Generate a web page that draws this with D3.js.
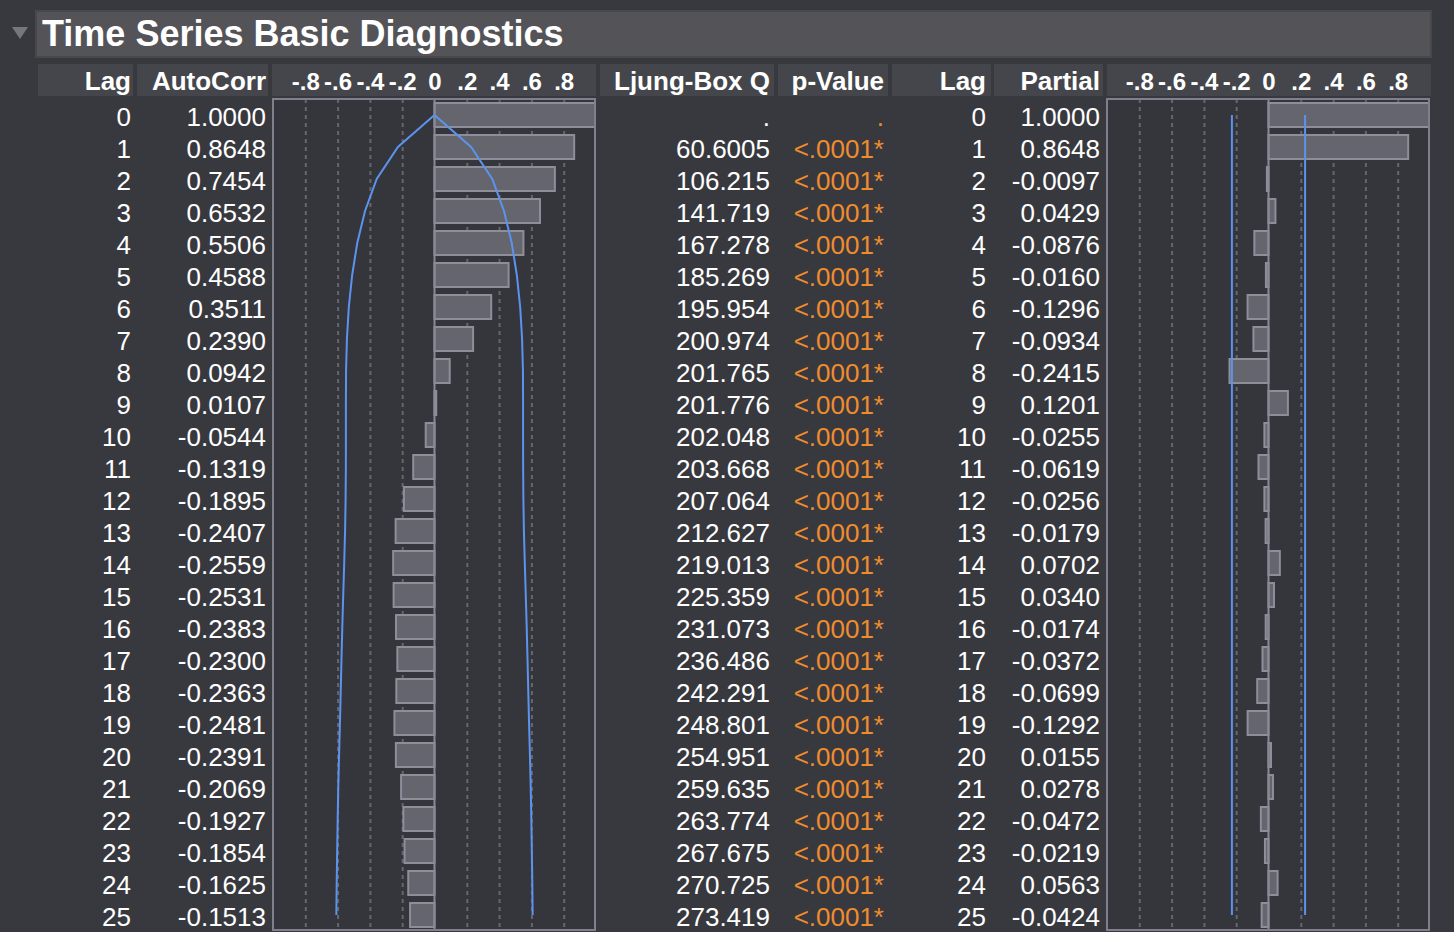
<!DOCTYPE html>
<html>
<head>
<meta charset="utf-8">
<script src="https://cdn.jsdelivr.net/npm/d3@7"></script>
<style>
  html, body { margin: 0; padding: 0; background: #38393e; }
  svg { display: block; }
  text { font-family: "Liberation Sans", Arial, Helvetica, sans-serif; }
</style>
</head>
<body>
<svg id="chart" width="1454" height="932"></svg>
<script>
// ---------------- data ----------------
const lags = [0,1,2,3,4,5,6,7,8,9,10,11,12,13,14,15,16,17,18,19,20,21,22,23,24,25];
const autoCorr = [1.0000,0.8648,0.7454,0.6532,0.5506,0.4588,0.3511,0.2390,0.0942,0.0107,
  -0.0544,-0.1319,-0.1895,-0.2407,-0.2559,-0.2531,-0.2383,-0.2300,-0.2363,-0.2481,
  -0.2391,-0.2069,-0.1927,-0.1854,-0.1625,-0.1513];
const ljungBoxQ = [null,60.6005,106.215,141.719,167.278,185.269,195.954,200.974,201.765,201.776,
  202.048,203.668,207.064,212.627,219.013,225.359,231.073,236.486,242.291,248.801,
  254.951,259.635,263.774,267.675,270.725,273.419];
const pValueLabels = [".", "<.0001*","<.0001*","<.0001*","<.0001*","<.0001*","<.0001*","<.0001*","<.0001*","<.0001*",
  "<.0001*","<.0001*","<.0001*","<.0001*","<.0001*","<.0001*","<.0001*","<.0001*","<.0001*","<.0001*",
  "<.0001*","<.0001*","<.0001*","<.0001*","<.0001*","<.0001*"];
const partialCorr = [1.0000,0.8648,-0.0097,0.0429,-0.0876,-0.0160,-0.1296,-0.0934,-0.2415,0.1201,
  -0.0255,-0.0619,-0.0256,-0.0179,0.0702,0.0340,-0.0174,-0.0372,-0.0699,-0.1292,
  0.0155,0.0278,-0.0472,-0.0219,0.0563,-0.0424];
// ACF 2-sigma limits
const acfLimit = [0,0.2265,0.3578,0.4301,0.4783,0.5097,0.5305,0.5423,0.5477,0.5485,
  0.5485,0.5488,0.5504,0.5537,0.5591,0.5651,0.5709,0.5759,0.5806,0.5855,
  0.5909,0.5958,0.5995,0.6027,0.6056,0.6078];
const pacfLimit = 0.2265;
const tickValues = [-0.8,-0.6,-0.4,-0.2,0,0.2,0.4,0.6,0.8];
const tickLabels = ["-.8","-.6","-.4","-.2","0",".2",".4",".6",".8"];
const title = "Time Series Basic Diagnostics";
const headers = ["Lag","AutoCorr","Ljung-Box Q","p-Value","Lag","Partial"];

// ---------------- layout ----------------
const C = {
  bg: "#38393e", titleFill: "#535358", titleStroke: "#47474c", headFill: "#45464b",
  plotBg: "#35363b", plotBorder: "#80808c", grid: "#66676d", zero: "#8a8a96",
  barFill: "#64656d", barStroke: "#8e8e9b", blue: "#5b93ee", orange: "#ee8c2e", text: "#ffffff"
};
const svg = d3.select("#chart");
svg.append("rect").attr("width",1454).attr("height",932).attr("fill",C.bg);

// title bar
svg.append("rect").attr("x",36).attr("y",11).attr("width",1395).attr("height",46)
  .attr("fill",C.titleFill).attr("stroke",C.titleStroke).attr("stroke-width",2);
svg.append("path").attr("d","M12,27 L28,27 L20,39 Z").attr("fill","#76777b");
svg.append("text").attr("x",42).attr("y",46).attr("fill",C.text)
  .attr("font-size",36).attr("font-weight","bold").text(title);

// header cells
const headCells = [[38,133],[137,268],[272,596],[600,774],[778,888],[892,991],[994,1103],[1107,1431]];
headCells.forEach(([a,b]) => {
  svg.append("rect").attr("x",a).attr("y",64).attr("width",b-a).attr("height",32).attr("fill",C.headFill);
});
const headerRight = [131,266,770,884,986,1100];
headers.forEach((h,i) => {
  svg.append("text").attr("x",headerRight[i]).attr("y",90).attr("text-anchor","end")
    .attr("fill",C.text).attr("font-size",26).attr("font-weight","bold").text(h);
});

// rows
const y = d3.scaleBand().domain(lags).range([99, 99 + 32*lags.length]);
const rowC = l => y(l) + y.bandwidth()/2;
const fontSize = 26;

function textCol(values, xRight, color, fmt) {
  svg.append("g").selectAll("text").data(values).join("text")
    .attr("x", xRight).attr("y", (d,i) => rowC(lags[i]) + 11)
    .attr("text-anchor","end").attr("font-size",fontSize).attr("fill",color)
    .text(fmt);
}
textCol(lags, 131, C.text, d => d);
textCol(autoCorr, 266, C.text, d => d.toFixed(4));
textCol(ljungBoxQ, 770, C.text, d => d === null ? "." : d.toPrecision(6));
textCol(pValueLabels, 884, C.orange, d => d);
textCol(lags, 986, C.text, d => d);
textCol(partialCorr, 1100, C.text, d => d.toFixed(4));

// plots
function corrPlot(id, x0, x1, values, limitFn) {
  const top = 99, bottom = 930;
  const x = d3.scaleLinear().domain([-1,1]).range([x0, x1 + 1]);
  const g = svg.append("g");
  g.append("clipPath").attr("id", id).append("rect")
    .attr("x", x0).attr("y", top).attr("width", x1 - x0).attr("height", bottom - top);
  g.append("rect").attr("x",x0).attr("y",top).attr("width",x1-x0).attr("height",bottom-top).attr("fill",C.plotBg);

  // header tick labels
  const ax = d3.axisTop(x).tickValues(tickValues).tickSize(0).tickPadding(0)
    .tickFormat((d,i) => tickLabels[i]);
  const axg = svg.append("g").attr("transform","translate(0,90)").call(ax);
  axg.select(".domain").remove();
  axg.selectAll("text").attr("fill",C.text).attr("font-size",24).attr("font-weight","bold")
    .attr("font-family","'Liberation Sans', Arial, sans-serif").attr("dy","0");

  // grid
  const gridAx = d3.axisBottom(x).tickValues(tickValues.filter(v => v !== 0)).tickSize(bottom - top).tickFormat("");
  const gg = g.append("g").attr("transform",`translate(0,${top})`).call(gridAx);
  gg.select(".domain").remove();
  gg.selectAll("line").attr("stroke",C.grid).attr("stroke-width",2).attr("stroke-dasharray","4,4");

  const inner = g.append("g").attr("clip-path",`url(#${id})`);
  // bars
  inner.selectAll("rect.bar").data(values).join("rect").attr("class","bar")
    .attr("x", d => Math.min(x(0), x(d)))
    .attr("width", d => Math.abs(x(d) - x(0)))
    .attr("y", (d,i) => rowC(lags[i]) - 12)
    .attr("height", 24)
    .attr("fill", C.barFill).attr("stroke", C.barStroke).attr("stroke-width", 2);
  // zero line
  inner.append("line").attr("x1",x(0)).attr("x2",x(0)).attr("y1",top).attr("y2",bottom)
    .attr("stroke",C.zero).attr("stroke-width",2);
  limitFn(inner, x);
  // border
  g.append("rect").attr("x",x0).attr("y",top).attr("width",x1-x0).attr("height",bottom-top)
    .attr("fill","none").attr("stroke",C.plotBorder).attr("stroke-width",2);
}

corrPlot("clipAcf", 273, 595, autoCorr, (g, x) => {
  [1,-1].forEach(s => {
    const line = d3.line().x((d,i) => x(s*d)).y((d,i) => rowC(lags[i]));
    g.append("path").attr("d", line(acfLimit)).attr("fill","none")
      .attr("stroke",C.blue).attr("stroke-width",2);
  });
});
corrPlot("clipPacf", 1107, 1429, partialCorr, (g, x) => {
  [1,-1].forEach(s => {
    g.append("line").attr("x1",x(s*pacfLimit)).attr("x2",x(s*pacfLimit))
      .attr("y1",rowC(lags[0])).attr("y2",rowC(lags[lags.length-1]))
      .attr("stroke",C.blue).attr("stroke-width",2);
  });
});
</script>
</body>
</html>
